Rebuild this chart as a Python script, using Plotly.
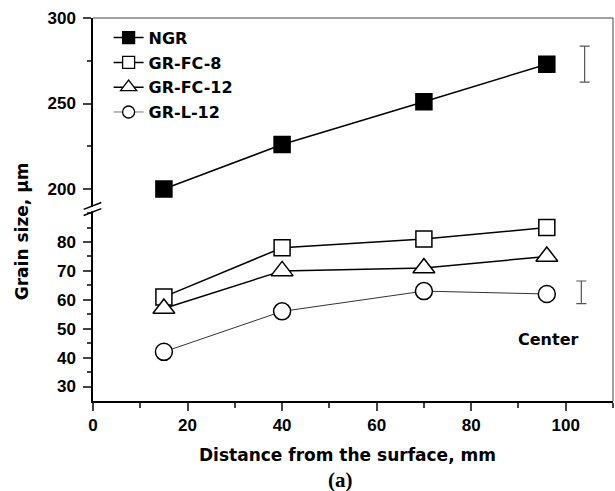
import plotly.graph_objects as go

# ---------------- data ----------------
distance = [15, 40, 70, 96]
ngr = [200, 226, 251, 273]
gr_fc_8 = [61, 78, 81, 85]
gr_fc_12 = [57, 70, 71, 75]
gr_l_12 = [42, 56, 63, 62]

# representative error bars (right side)
err_upper_x = [104]
err_upper_y = [273]
err_upper_e = [10.5]
err_lower_x = [103.3]
err_lower_y = [62.6]
err_lower_e = [3.9]

x_ticks = [0, 20, 40, 60, 80, 100]
x_minor = [10, 30, 50, 70, 90, 110]
lower_ticks = [30, 40, 50, 60, 70, 80]
lower_minor = [35, 45, 55, 65, 75, 85, 90]
upper_ticks = [200, 250, 300]
upper_minor = [225, 275]

x_range = [0, 110]
lower_range = [25, 91.4]
upper_range = [188.3, 300]
split = 0.5013

FONT = "Liberation Sans"
WIDE = "DejaVu Sans"
BLACK = "#000000"

fig = go.Figure()

# upper panel
fig.add_trace(go.Scatter(
    x=distance, y=ngr, mode="lines+markers", name="NGR", showlegend=False,
    line=dict(color=BLACK, width=1.5),
    marker=dict(symbol="square", size=16, color=BLACK, line=dict(color=BLACK, width=1.5)),
    xaxis="x", yaxis="y2"))

# lower panel
fig.add_trace(go.Scatter(
    x=distance, y=gr_fc_8, mode="lines+markers", name="GR-FC-8", showlegend=False,
    line=dict(color=BLACK, width=1.5),
    marker=dict(symbol="square", size=16, color="white", line=dict(color=BLACK, width=1.5)),
    xaxis="x", yaxis="y"))
fig.add_trace(go.Scatter(
    x=distance, y=gr_fc_12, mode="lines+markers", name="GR-FC-12", showlegend=False,
    line=dict(color=BLACK, width=1.5),
    marker=dict(symbol="triangle-up", size=19, color="white", line=dict(color=BLACK, width=1.5)),
    xaxis="x", yaxis="y"))
fig.add_trace(go.Scatter(
    x=distance, y=gr_l_12, mode="lines+markers", name="GR-L-12", showlegend=False,
    line=dict(color="#333333", width=1),
    marker=dict(symbol="circle", size=17, color="white", line=dict(color=BLACK, width=1.5)),
    xaxis="x", yaxis="y"))

# error bars
fig.add_trace(go.Scatter(
    x=err_upper_x, y=err_upper_y, mode="markers", showlegend=False,
    marker=dict(size=1, color="rgba(0,0,0,0)"),
    error_y=dict(type="data", array=err_upper_e, color="#555555", thickness=1.2, width=5),
    xaxis="x", yaxis="y2"))
fig.add_trace(go.Scatter(
    x=err_lower_x, y=err_lower_y, mode="markers", showlegend=False,
    marker=dict(size=1, color="rgba(0,0,0,0)"),
    error_y=dict(type="data", array=err_lower_e, color="#555555", thickness=1.2, width=5),
    xaxis="x", yaxis="y"))

# legend entries
legend_specs = [
    ("NGR", "square", BLACK, BLACK, 1.5),
    ("GR-FC-8", "square", "white", BLACK, 1.5),
    ("GR-FC-12", "triangle-up", "white", BLACK, 1.5),
    ("GR-L-12", "circle", "white", "#777777", 1),
]
for i, (nm, sym, fill, lc, lw) in enumerate(legend_specs):
    fig.add_trace(go.Scatter(
        x=[None], y=[None], mode="lines+markers", name=nm, legendgroup=str(i),
        line=dict(color=lc, width=lw),
        marker=dict(symbol=sym, size=12 if sym != "triangle-up" else 14, color=fill,
                    line=dict(color=BLACK, width=1.3)),
        xaxis="x", yaxis="y"))

tickfont = dict(family=FONT, size=17, color=BLACK, weight="bold")
axis_common = dict(ticks="outside", ticklen=8, tickwidth=1.5, showline=True,
                   linecolor=BLACK, linewidth=1.5, showgrid=False, zeroline=False,
                   tickfont=tickfont)

fig.update_layout(
    width=615, height=491,
    margin=dict(l=93, r=2, t=18, b=90),
    paper_bgcolor="white", plot_bgcolor="white",
    showlegend=True,
    legend=dict(x=0.030, y=0.993, xanchor="left", yanchor="top",
                bgcolor="rgba(0,0,0,0)", borderwidth=0,
                font=dict(family=WIDE, size=16, color=BLACK, weight="bold"),
                traceorder="grouped", tracegroupgap=1),
    xaxis=dict(domain=[0, 1], range=x_range, anchor="y",
               tickmode="array", tickvals=x_ticks,
               minor=dict(tickvals=x_minor, ticks="outside", ticklen=5, tickwidth=1.5),
               **axis_common),
    yaxis=dict(domain=[0, split], range=lower_range, anchor="x",
               tickmode="array", tickvals=lower_ticks, ticklabelstandoff=4,
               minor=dict(tickvals=lower_minor, ticks="outside", ticklen=4, tickwidth=1.5),
               **axis_common),
    yaxis2=dict(domain=[split, 1], range=upper_range, anchor="x",
                tickmode="array", tickvals=upper_ticks, ticklabelstandoff=4,
                minor=dict(tickvals=upper_minor, ticks="outside", ticklen=4, tickwidth=1.5),
                **axis_common),
)

# frame (top and right) and axis break marks
fig.add_shape(type="line", xref="paper", yref="paper", x0=0, x1=1, y0=1, y1=1,
              line=dict(color="#444444", width=1.2))
fig.add_shape(type="line", xref="paper", yref="paper", x0=1, x1=1, y0=0, y1=1,
              line=dict(color="#444444", width=1))
fig.add_shape(type="rect", xref="paper", yref="paper", x0=-0.006, x1=0.006,
              y0=split - 0.006, y1=split + 0.006, fillcolor="white", line=dict(width=0),
              layer="above")
fig.add_shape(type="line", xref="paper", yref="paper", x0=-0.018, x1=0.016,
              y0=split - 0.001, y1=split + 0.017, line=dict(color=BLACK, width=1.5))
fig.add_shape(type="line", xref="paper", yref="paper", x0=-0.018, x1=0.016,
              y0=split - 0.017, y1=split + 0.001, line=dict(color=BLACK, width=1.5))

# texts
fig.add_annotation(text="Grain size, μm", xref="paper", yref="paper", x=-0.136, y=0.444,
                   textangle=-90, showarrow=False, xanchor="center", yanchor="middle",
                   font=dict(family=WIDE, size=17, color=BLACK, weight="bold"))
fig.add_annotation(text="Distance from the surface, mm", xref="paper", yref="paper",
                   x=0.49, y=-0.141, showarrow=False, xanchor="center", yanchor="middle",
                   font=dict(family=WIDE, size=17, color=BLACK, weight="bold"))
fig.add_annotation(text="(a)", xref="paper", yref="paper", x=0.476, y=-0.206,
                   showarrow=False, xanchor="center", yanchor="middle",
                   font=dict(family="Liberation Serif", size=21, color=BLACK, weight="bold"))
fig.add_annotation(text="Center", xref="x", yref="y", x=96.2, y=46.1,
                   showarrow=False, xanchor="center", yanchor="middle",
                   font=dict(family=WIDE, size=16, color=BLACK, weight="bold"))

fig.write_html(
    "out.html",
    config={"displayModeBar": False},
    post_script="document.body.style.margin='0';document.body.style.overflow='hidden';",
)
